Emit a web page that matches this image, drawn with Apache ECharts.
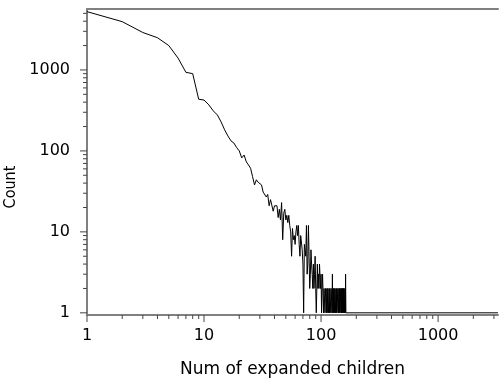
<!DOCTYPE html>
<html>
<head>
<meta charset="utf-8">
<script src="https://cdn.jsdelivr.net/npm/echarts@6/dist/echarts.min.js"></script>
<style>
  html, body { margin: 0; padding: 0; background: #fff; }
  #chart { width: 500px; height: 381px; }
</style>
</head>
<body>
<div id="chart"></div>
<script>
// Number of expanded children per node (x) and how many nodes had that many (y)
const numChildren = [
  1, 2, 3, 4, 5, 6, 7, 8, 9, 10,
  11, 12, 13, 14, 15, 16, 17, 18, 19, 20,
  21, 22, 23, 24, 25, 26, 27, 28, 29, 30,
  31, 32, 33, 34, 35, 36, 37, 38, 39, 40,
  41, 42, 43, 44, 45, 46, 47, 48, 49, 50,
  51, 52, 53, 54, 55, 56, 57, 58, 59, 60,
  61, 62, 63, 64, 65, 66, 67, 68, 69, 70,
  71, 72, 73, 74, 75, 76, 77, 78, 79, 80,
  81, 82, 83, 84, 85, 86, 87, 88, 89, 90,
  91, 92, 93, 94, 95, 96, 97, 98, 99, 100,
  101, 102, 103, 104, 105, 106, 107, 108, 109, 110,
  111, 112, 113, 114, 115, 116, 117, 118, 119, 120,
  121, 122, 123, 124, 125, 126, 127, 128, 129, 130,
  131, 132, 133, 134, 135, 136, 137, 138, 139, 140,
  141, 142, 143, 144, 145, 146, 147, 148, 149, 150,
  151, 152, 153, 154, 155, 156, 157, 158, 159, 160,
  161, 162, 163, 3250
];
const nodeCount = [
  5250, 3950, 2900, 2500, 2000, 1400, 935, 900, 435, 425,
  370, 312, 278, 228, 182, 153, 133, 125, 110, 100,
  82, 89, 73, 67, 61, 48, 38, 44, 41, 40,
  38, 31, 32, 27, 29, 21, 25, 24, 18, 21,
  20, 21, 15, 19, 14, 23, 8, 17, 19, 14,
  16, 13, 16, 12, 10, 5, 11, 8, 9, 7,
  10, 12, 9, 12, 7, 5, 9, 9, 6, 4,
  1, 7, 6, 5, 12, 3, 4, 12, 5, 2,
  3, 6, 4, 3, 2, 4, 2, 3, 5, 2,
  1, 1, 4, 2, 3, 2, 4, 4, 2, 3,
  1, 2, 3, 3, 1, 2, 2, 1, 2, 2,
  1, 2, 1, 2, 2, 1, 2, 1, 2, 2,
  1, 2, 2, 1, 3, 1, 2, 1, 2, 1,
  2, 2, 1, 2, 1, 2, 1, 1, 2, 2,
  1, 2, 1, 2, 1, 2, 2, 1, 2, 1,
  2, 1, 2, 1, 2, 1, 2, 2, 1, 2,
  1, 3, 1, 1
];

// Axis ranges and labelled ticks
const xRange = [1, 3250];
const yRange = [0.94, 5660];
const xTickValues = [1, 10, 100, 1000];
const yTickValues = [1, 10, 100, 1000];
const minorSteps = [2, 3, 4, 5, 6, 7, 8, 9];

// 2..9 multiples of each decade that fall inside a range
function minorValues(range) {
  const out = [];
  for (let d = 1; d <= range[1]; d *= 10) {
    minorSteps.forEach(function (m) {
      const v = m * d;
      if (v >= range[0] && v <= range[1]) out.push(v);
    });
  }
  return out;
}

const axisGray = '#808080';
const tickColor = '#444';
const tickFont = { fontFamily: '"DejaVu Sans", sans-serif', fontSize: 16, color: '#000' };

// Tick marks: each item is [value, length]; drawn outward from the bottom / left axis
const xTickItems = xTickValues.map(function (v) { return [v, 7]; })
  .concat(minorValues(xRange).map(function (v) { return [v, 4]; }));
const yTickItems = yTickValues.map(function (v) { return [v, 7]; })
  .concat(minorValues(yRange).map(function (v) { return [v, 4]; }));

function tickSeries(items, dim) {
  return {
    type: 'custom',
    xAxisIndex: 0,
    yAxisIndex: 0,
    silent: true,
    clip: false,
    z: 5,
    data: items,
    renderItem: function (params, api) {
      const v = api.value(0);
      const len = api.value(1);
      if (dim === 'x') {
        const p = api.coord([v, yRange[0]]);
        return { type: 'line', shape: { x1: p[0], y1: p[1], x2: p[0], y2: p[1] + len },
          style: { stroke: tickColor, lineWidth: 1 } };
      }
      const q = api.coord([xRange[0], v]);
      return { type: 'line', shape: { x1: q[0], y1: q[1], x2: q[0] - len, y2: q[1] },
        style: { stroke: tickColor, lineWidth: 1 } };
    }
  };
}

const chart = echarts.init(document.getElementById('chart'), null, { renderer: 'canvas' });

chart.setOption({
  animation: false,
  backgroundColor: '#fff',
  grid: { left: 87, right: 2, top: 9, bottom: 66, containLabel: false, outerBoundsMode: 'none' },
  xAxis: [
    {
      type: 'log', logBase: 10, min: xRange[0], max: xRange[1],
      position: 'bottom',
      name: 'Num of expanded children',
      nameLocation: 'middle', nameGap: 46,
      nameTextStyle: { fontFamily: '"DejaVu Sans", sans-serif', fontSize: 17, color: '#000' },
      axisLine: { show: true, onZero: false, lineStyle: { color: axisGray, width: 2 } },
      axisTick: { show: false },
      axisLabel: Object.assign({ margin: 13, customValues: xTickValues,
        formatter: function (v) { return String(Math.round(v)); } }, tickFont),
      splitLine: { show: false }
    },
    {
      type: 'log', logBase: 10, min: xRange[0], max: xRange[1],
      position: 'top',
      axisLine: { show: true, onZero: false, lineStyle: { color: axisGray, width: 2 } },
      axisTick: { show: false },
      axisLabel: { show: false },
      splitLine: { show: false }
    }
  ],
  yAxis: [
    {
      type: 'log', logBase: 10, min: yRange[0], max: yRange[1],
      position: 'left',
      name: 'Count',
      nameLocation: 'middle', nameGap: 60, nameRotate: 90,
      nameTextStyle: {
        fontFamily: '"Liberation Sans Narrow", "DejaVu Sans Condensed", sans-serif',
        fontSize: 16, color: '#000', padding: [0, 50, 0, 0]
      },
      axisLine: { show: true, onZero: false, lineStyle: { color: axisGray, width: 2 } },
      axisTick: { show: false },
      axisLabel: Object.assign({ margin: 17, customValues: yTickValues,
        formatter: function (v) { return String(Math.round(v)); } }, tickFont),
      splitLine: { show: false }
    }
  ],
  series: [
    {
      type: 'line',
      xAxisIndex: 0,
      yAxisIndex: 0,
      data: numChildren.map(function (c, i) { return [c, nodeCount[i]]; }),
      showSymbol: false,
      symbol: 'none',
      lineStyle: { color: '#000', width: 1 },
      clip: true
    },
    tickSeries(xTickItems, 'x'),
    tickSeries(yTickItems, 'y')
  ]
});
</script>
</body>
</html>
